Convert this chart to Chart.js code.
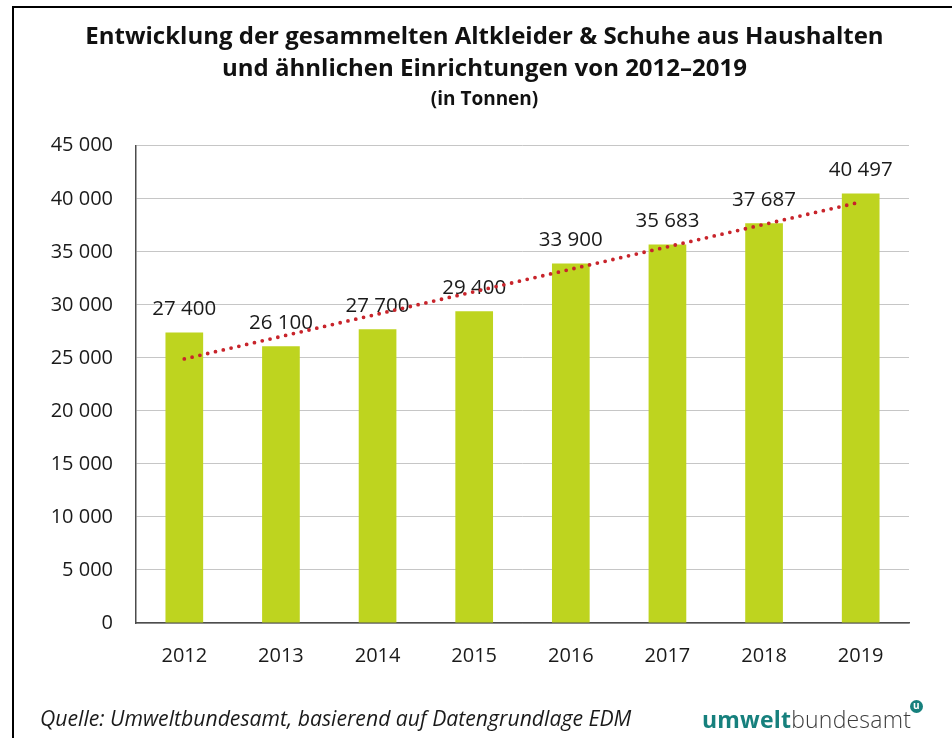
<!DOCTYPE html>
<html lang="de">
<head>
<meta charset="utf-8">
<title>Altkleider & Schuhe 2012–2019</title>
<script src="https://cdn.jsdelivr.net/npm/chart.js@4/dist/chart.umd.min.js"></script>
<style>
    html, body { margin: 0; padding: 0; background: #fff; overflow: hidden; }
    body { width: 952px; height: 738px; position: relative; font-family: "Open Sans", sans-serif; }
    #frame { position: absolute; left: 12px; top: 6px; width: 1000px; height: 800px;
             border-left: 2px solid #000; border-top: 2px solid #000; }
    #chart { position: absolute; left: 0; top: 0; }
    #quelle { position: absolute; left: 40px; top: 707px; font-size: 21.2px; line-height: 21px; font-style: italic; color: #1a1a1a; white-space: nowrap; }
    #logo { position: absolute; left: 702px; top: 703px; font-size: 23px; white-space: nowrap; letter-spacing: 0.2px; }
    #logo .u1 { color: #16807d; font-weight: 700; }
    #logo .u2 { color: #3c3c3c; font-weight: 300; }
    #logo .dot { position: absolute; left: 208px; top: -3px; width: 13px; height: 13px; border-radius: 50%;
                 background: #16807d; color: #fff; font-size: 10px; font-weight: 700; line-height: 11px; text-align: center; }
</style>
</head>
<body>
<div id="frame"></div>
<canvas id="chart" width="952" height="738"></canvas>
<div id="quelle">Quelle: Umweltbundesamt, basierend auf Datengrundlage EDM</div>
<div id="logo"><span class="u1">umwelt</span><span class="u2">bundesamt</span><span class="dot">u</span></div>
<script>
// Daten
const jahre = ['2012', '2013', '2014', '2015', '2016', '2017', '2018', '2019'];
const tonnen = [27400, 26100, 27700, 29400, 33900, 35683, 37687, 40497];
// Trendlinie: Anfangs- und Endwert
const trend = [24900, null, null, null, null, null, null, 39700];
const yTicks = [0, 5000, 10000, 15000, 20000, 25000, 30000, 35000, 40000, 45000];

const fmt = v => String(v).replace(/\B(?=(\d{3})+(?!\d))/g, ' ');

// Werte über den Balken (Datensatz 1 = Balken)
const barLabels = {
    id: 'barLabels',
    beforeDatasetsDraw(chart) {
        const ctx = chart.ctx;
        const meta = chart.getDatasetMeta(1);
        ctx.save();
        ctx.font = '20.5px "Open Sans"';
        ctx.fillStyle = '#1a1a1a';
        ctx.textAlign = 'center';
        ctx.textBaseline = 'middle';
        meta.data.forEach((bar, i) => {
            ctx.fillText(fmt(tonnen[i]), bar.x, bar.y - 23);
        });
        ctx.restore();
    }
};

new Chart(document.getElementById('chart').getContext('2d'), {
    data: {
        labels: jahre,
        datasets: [{
            type: 'line',
            label: 'Trend',
            data: trend,
            spanGaps: true,
            borderColor: '#c8242b',
            borderWidth: 3.8,
            borderDash: [0, 8],
            borderCapStyle: 'round',
            pointRadius: 0,
            fill: false,
            order: 0
        }, {
            type: 'bar',
            label: 'Tonnen',
            data: tonnen,
            backgroundColor: '#bed41f',
            barPercentage: 0.39,
            categoryPercentage: 1,
            order: 1
        }]
    },
    options: {
        responsive: false,
        animation: false,
        layout: { padding: { left: 17, right: 0, top: 0, bottom: 65 } },
        plugins: {
            legend: { display: false },
            tooltip: { enabled: false },
            title: {
                display: true,
                text: ['Entwicklung der gesammelten Altkleider & Schuhe aus Haushalten',
                       'und ähnlichen Einrichtungen von 2012–2019'],
                color: '#111',
                font: { family: 'Open Sans', size: 24, weight: 'bold', lineHeight: 1.333 },
                padding: { top: 21, bottom: 0 }
            },
            subtitle: {
                display: true,
                text: '(in Tonnen)',
                color: '#111',
                font: { family: 'Open Sans', size: 19, weight: 'bold', lineHeight: 1.2 },
                padding: { top: 3, bottom: 35 }
            }
        },
        scales: {
            x: {
                grid: { display: false },
                border: { display: true, color: '#4d4d4d', width: 1.5 },
                ticks: { color: '#1a1a1a', font: { family: 'Open Sans', size: 20 }, padding: 13 },
                afterFit: s => { s.height = 50; }
            },
            y: {
                min: 0,
                max: 45000,
                afterBuildTicks: s => { s.ticks = yTicks.map(v => ({ value: v })); },
                grid: { color: '#c6c6c6', lineWidth: 1, drawTicks: false },
                border: { display: true, color: '#4d4d4d', width: 1.5 },
                ticks: { color: '#1a1a1a', font: { family: 'Open Sans', size: 20 }, padding: 23, callback: v => fmt(v) },
                afterFit: s => { s.width = 119; }
            },
            // leere rechte Achse, hält rechts Platz frei
            yRechts: {
                position: 'right',
                min: 0,
                max: 45000,
                grid: { display: false },
                border: { display: false },
                ticks: { display: false },
                afterFit: s => { s.width = 43; }
            }
        }
    },
    plugins: [barLabels]
});
</script>
</body>
</html>
